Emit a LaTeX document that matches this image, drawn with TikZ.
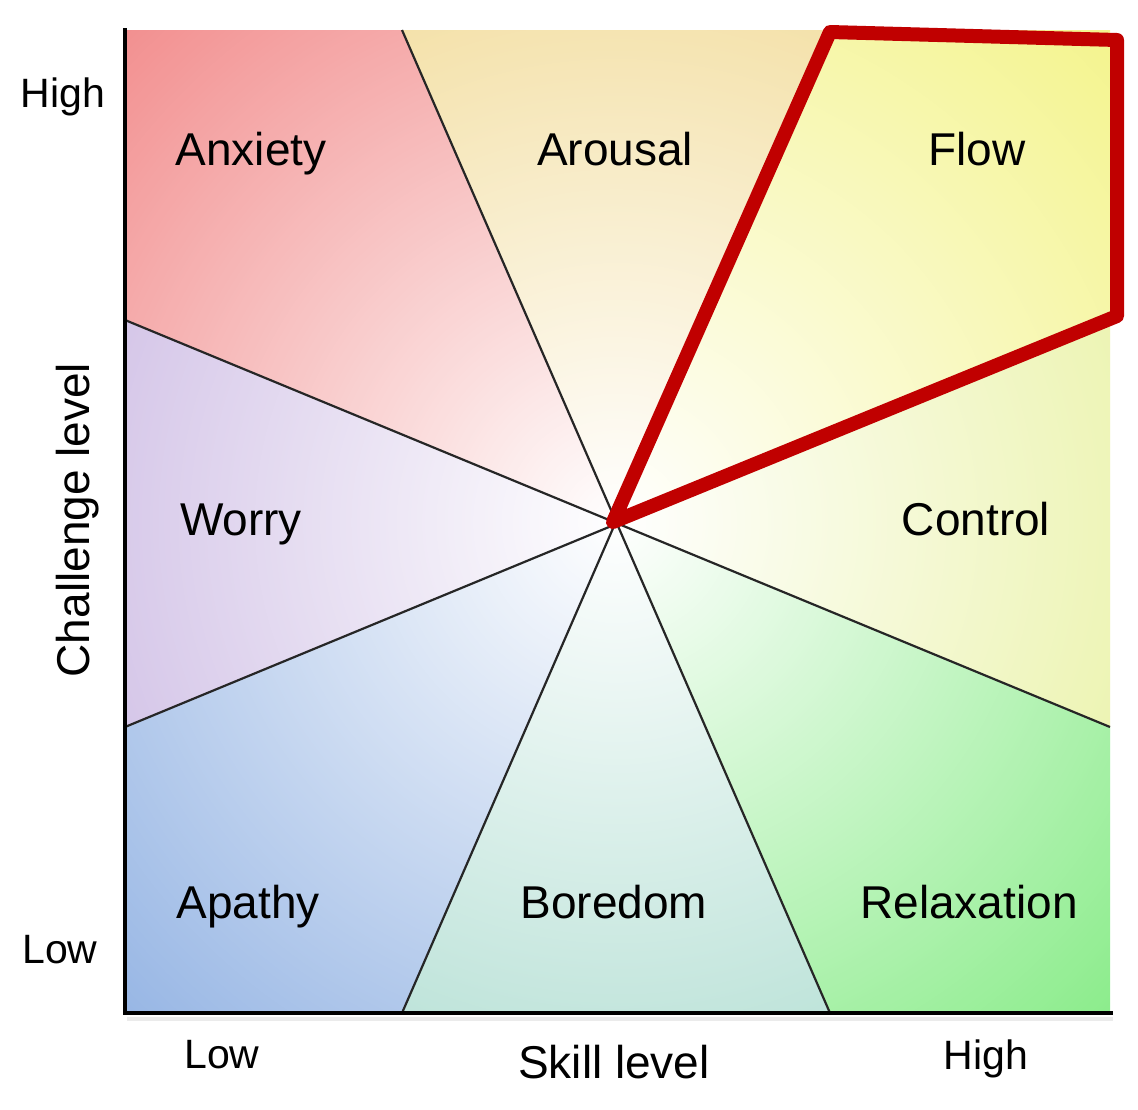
\documentclass[tikz,border=0pt]{standalone}
\usepackage{fontspec}
\setmainfont{Liberation Sans}
\usetikzlibrary{fadings}
\tikzfading[name=glowfade, inner color=transparent!0, outer color=transparent!100]
\definecolor{cAnx}{HTML}{F28C8C}
\definecolor{cAro}{HTML}{F1D88E}
\definecolor{cFlow}{HTML}{F4F48A}
\definecolor{cCtl}{HTML}{E7F19A}
\definecolor{cRel}{HTML}{88EC88}
\definecolor{cBor}{HTML}{A9DBCE}
\definecolor{cApa}{HTML}{94B4E4}
\definecolor{cWor}{HTML}{C7B3E1}
\definecolor{flowred}{HTML}{C00000}
\tikzset{
  region/.style={draw=none},
  divider/.style={draw=black!85, line width=2.2pt},
  axisline/.style={draw=black, line width=4.5pt},
  zone/.style={inner sep=0pt, anchor=base, font=\fontsize{46}{50}\selectfont},
  tick/.style={inner sep=0pt, anchor=base, font=\fontsize{41}{45}\selectfont},
  axtitle/.style={inner sep=0pt, anchor=base, font=\fontsize{46}{50}\selectfont},
  flowpoly/.style={draw=flowred, line width=14pt, line join=round, line cap=round}
}
\begin{document}
\begin{tikzpicture}[x=1pt,y=-1pt]
\useasboundingbox (0,0) rectangle (1138,1109);
\coordinate (C) at (616,522);
\coordinate (T1) at (402,30);
\coordinate (T2) at (830,30);
\coordinate (L1) at (125,320);
\coordinate (L2) at (125,727);
\coordinate (B1) at (402,1013);
\coordinate (B2) at (830,1013);
\coordinate (R1) at (1110,320);
\coordinate (R2) at (1110,727);
\coordinate (TL) at (125,30);
\coordinate (TR) at (1110,30);
\coordinate (BL) at (125,1013);
\coordinate (BR) at (1110,1013);
% regions
\fill[region, cAnx] (C) -- (T1) -- (TL) -- (L1) -- cycle;
\fill[region, cAro] (C) -- (T2) -- (T1) -- cycle;
\fill[region, cFlow] (C) -- (R1) -- (TR) -- (T2) -- cycle;
\fill[region, cCtl] (C) -- (R2) -- (R1) -- cycle;
\fill[region, cRel] (C) -- (B2) -- (BR) -- (R2) -- cycle;
\fill[region, cBor] (C) -- (B1) -- (B2) -- cycle;
\fill[region, cApa] (C) -- (L2) -- (BL) -- (B1) -- cycle;
\fill[region, cWor] (C) -- (L1) -- (L2) -- cycle;
% white radial glow
\begin{scope}
\clip (TL) rectangle (BR);
\fill[white, path fading=glowfade] (C) circle (720);
\end{scope}
% dividers
\draw[divider] (T1) -- (B2);
\draw[divider] (T2) -- (B1);
\draw[divider] (L1) -- (R2);
\draw[divider] (L2) -- (R1);
% axes
\draw[black!8, line width=4pt] (127,1019) -- (1113,1019);
\draw[axisline] (125,28) -- (BL) -- (1113,1013);
% labels
\node[zone] (anx) at (251,165) {Anxiety};
\node[zone] (aro) at (615,165) {Arousal};
\node[zone] (flw) at (977,165) {Flow};
\node[zone] (wor) at (241,535) {Worry};
\node[zone] (ctl) at (976,535) {Control};
\node[zone] (apa) at (248,918) {Apathy};
\node[zone] (bor) at (614,918) {Boredom};
\node[zone] (rel) at (969,918) {Relaxation};
\node[tick] (yhi) at (63,107) {High};
\node[tick] (ylo) at (60,963) {Low};
\node[tick] (xlo) at (222,1068) {Low};
\node[tick] (xhi) at (986,1069) {High};
\node[axtitle] (xt) at (614,1078) {Skill level};
\node[axtitle, rotate=90] (yt) at (89,520) {Challenge level};
% flow highlight
\draw[flowpoly] (613,522) -- (830,32) -- (1117,40) -- (1117,316) -- cycle;
\end{tikzpicture}
\end{document}
